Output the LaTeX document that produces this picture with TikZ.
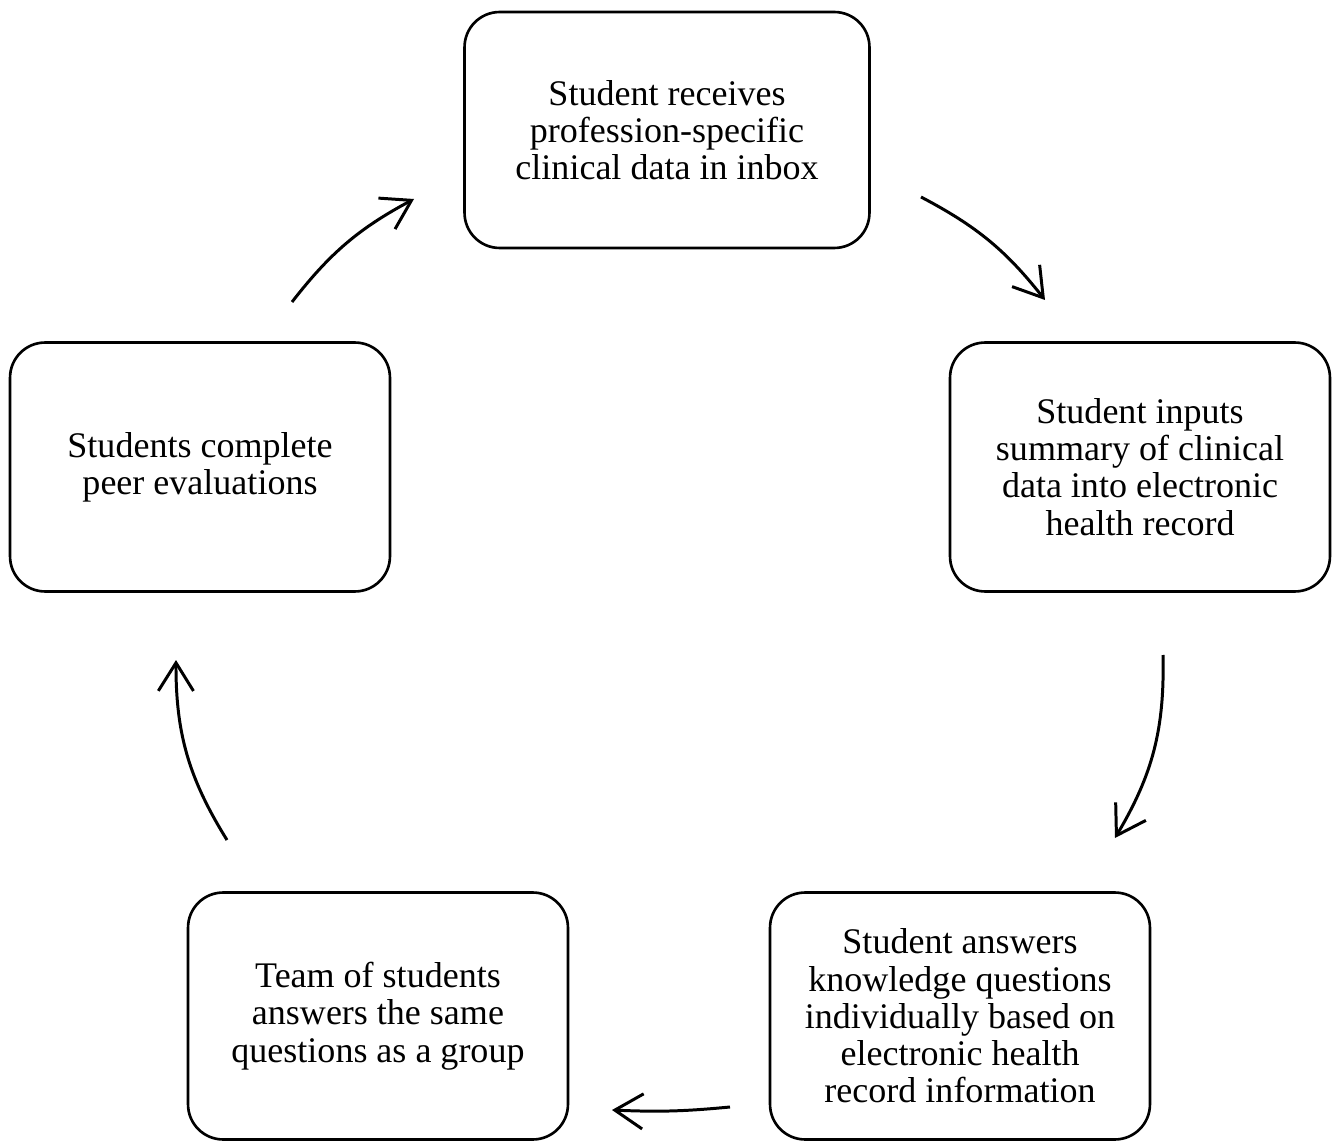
\documentclass[tikz,border=0pt]{standalone}
\usepackage{fontspec}
\setmainfont{Liberation Serif}
\usetikzlibrary{arrows.meta}
\tikzset{
stepbox/.style={draw, line width=1.5pt, rounded corners=20pt, align=center, inner sep=0pt,
  font=\fontsize{20.5}{21.2}\selectfont}, % the five boxes of the cycle
flow/.style={line width=1.7pt, -{Straight Barb[length=16pt,width=20pt,line width=1.7pt]}}, % open arrow heads
}

\begin{document}
\begin{tikzpicture}[x=0.02cm, y=-0.02cm]
\useasboundingbox (0,0) rectangle (1340,1142);

\node[stepbox, minimum width=8.1cm, minimum height=4.72cm] (receive) at (667,130)
  {Student receives\\profession-specific\\clinical data in inbox};
\node[stepbox, minimum width=7.6cm, minimum height=4.98cm] (inputs) at (1140,467)
  {Student inputs\\summary of clinical\\data into electronic\\health record};
\node[stepbox, minimum width=7.6cm, minimum height=4.94cm] (answers) at (960,1016)
  {Student answers\\knowledge questions\\individually based on\\electronic health\\record information};
\node[stepbox, minimum width=7.6cm, minimum height=4.94cm] (team) at (378,1016)
  {Team of students\\answers the same\\questions as a group};
\node[stepbox, minimum width=7.6cm, minimum height=4.98cm] (peer) at (200,467)
  {Students complete\\peer evaluations};

% free ends of the arrows between the boxes
\coordinate (peerout) at (292,302);
\coordinate (receivein) at (414,199);
\coordinate (receiveout) at (921,197);
\coordinate (inputsin) at (1045,300);
\coordinate (inputsout) at (1163,655);
\coordinate (answersin) at (1115,838);
\coordinate (answersout) at (730,1107);
\coordinate (teamin) at (612,1110);
\coordinate (teamout) at (227,840);
\coordinate (peerin) at (176,660);

\draw[flow] (peerout) to[bend left=12] (receivein);
\draw[flow] (receiveout) to[bend left=12] (inputsin);
\draw[flow] (inputsout) to[bend left=16] (answersin);
\draw[flow] (answersout) to[bend left=4] (teamin);
\draw[flow] (teamout) to[bend left=16] (peerin);

\end{tikzpicture}
\end{document}
